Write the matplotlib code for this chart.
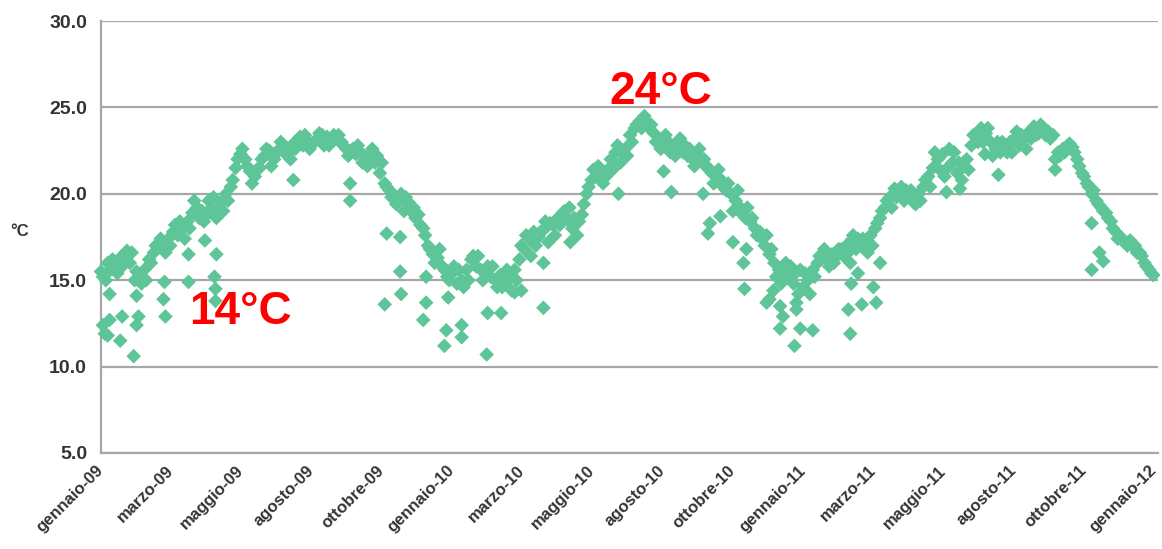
import matplotlib
matplotlib.use('Agg')
import matplotlib.pyplot as plt
import matplotlib.transforms as mtransforms
import numpy as np

plt.rcParams['font.family'] = ['Liberation Sans', 'DejaVu Sans']

# daily water temperature, values read every 5 days (day 0 = 1 Jan 2009)
t_2009 = [15.5, 15.0, 15.6, 16.0, 16.3, 16.4, 16.0, 15.0, 15.2, 15.6,
          16.2, 16.6, 17.0, 17.2, 17.4, 17.8, 17.6, 18.0, 18.4, 18.9,
          19.2, 19.0, 18.8, 19.2, 18.6, 19.5, 20.0, 20.4, 21.5, 22.3,
          22.0, 21.3, 21.0, 21.5, 22.2, 22.5, 22.0, 22.5, 22.8, 22.4,
          22.9, 23.0, 22.8, 23.1, 22.9, 23.2, 23.4, 23.3, 23.0, 23.2,
          23.0, 22.6, 22.4, 22.3, 22.4, 22.0, 22.3, 21.8, 21.2, 20.6,
          20.2, 19.9, 19.6, 19.0, 19.5, 19.2, 18.8, 18.0, 17.0, 16.5,
          16.3, 15.8, 15.2]
t_2010 = [15.4, 14.8, 15.0, 15.6, 16.2, 15.8, 15.6, 15.5, 15.2, 15.0,
          15.3, 14.8, 15.2, 15.6, 16.2, 16.8, 17.4, 17.8, 17.5, 17.9,
          17.2, 18.2, 18.6, 18.9, 18.5, 18.0, 17.6, 18.8, 20.0, 20.8,
          21.0, 21.2, 21.0, 22.0, 22.4, 21.8, 22.6, 23.4, 23.8, 24.2,
          24.5, 23.8, 23.5, 23.2, 22.8, 23.0, 22.6, 23.0, 22.4, 22.2,
          22.0, 22.3, 21.8, 21.6, 21.2, 21.0, 20.8, 20.2, 20.0, 19.6,
          19.2, 18.6, 18.4, 18.0, 17.8, 17.0, 16.5, 16.0, 15.6, 15.4,
          15.2, 14.8, 14.2]
t_2011 = [14.6, 15.0, 15.6, 16.0, 16.3, 16.2, 16.5, 16.4, 16.8, 17.0,
          17.3, 16.8, 17.0, 17.2, 17.6, 18.0, 18.6, 19.2, 19.8, 20.3,
          20.0, 19.6, 19.8, 19.5, 20.0, 20.4, 21.0, 21.5, 22.0, 22.3,
          21.5, 21.8, 21.2, 20.8, 22.0, 22.8, 23.4, 23.8, 23.5, 23.0,
          22.6, 22.4, 22.8, 23.0, 23.2, 22.8, 23.2, 23.6, 23.9, 23.5,
          23.8, 23.6, 23.4, 22.4, 22.6, 22.8, 22.7, 22.0, 21.2, 20.6,
          20.0, 19.6, 19.2, 18.9, 18.4, 17.8, 17.4, 17.2, 17.3, 17.0,
          16.6, 16.0, 15.6]

# in-between days (day 7, 17, 27, ...) that give the band its spread
e_2009 = [16.0, 15.4, 16.7, 15.5, 15.0, 17.0, 16.6, 18.2, 17.4, 19.6,
          18.4, 19.8, 19.0, 20.8, 22.6, 20.6, 22.0, 21.6, 23.0, 22.0,
          23.3, 22.6, 23.5, 22.8, 23.4, 22.2, 22.8, 21.6, 22.2, 20.4,
          19.4, 19.8, 18.6, 17.6, 16.0, 15.6]
e_2010 = [15.8, 14.6, 16.4, 15.0, 15.8, 14.6, 14.4, 17.0, 16.4, 17.8,
          18.3, 18.2, 19.2, 18.4, 20.4, 21.6, 21.4, 22.8, 22.2, 24.0,
          24.2, 23.0, 23.4, 22.2, 22.8, 21.6, 22.0, 20.6, 20.4, 19.0,
          18.8, 18.6, 17.4, 16.8, 14.8, 15.8, 15.6]
e_2011 = [14.2, 16.4, 15.8, 16.8, 16.6, 17.4, 16.6, 18.3, 19.6, 19.8,
          20.2, 19.4, 20.8, 22.4, 21.0, 22.4, 21.6, 23.4, 23.0, 22.2,
          23.0, 22.4, 23.4, 23.2, 24.0, 23.2, 22.2, 22.9, 21.6, 20.4,
          19.4, 18.6, 17.4, 17.0, 16.6, 15.8]

# more in-between days (day 2, 12, 22, ...)
f_2009 = [15.2, 16.2, 15.8, 16.6, 14.8, 16.0, 17.4, 17.0, 18.4, 18.0,
          18.6, 19.6, 19.0, 19.6, 22.0, 21.6, 21.4, 22.6, 22.4, 22.3,
          22.6, 23.4, 23.0, 22.8, 23.4, 22.8, 22.6, 21.8, 22.6, 21.8,
          19.8, 20.0, 19.0, 18.2, 16.8, 16.8, 15.0]
f_2010 = [15.6, 15.0, 16.4, 15.8, 14.6, 15.6, 15.0, 17.6, 17.0, 18.4,
          17.6, 19.0, 18.6, 19.4, 21.4, 20.6, 21.4, 22.4, 23.0, 23.8,
          24.0, 22.6, 22.4, 23.2, 22.6, 22.6, 21.4, 21.4, 20.6, 20.2,
          19.2, 17.6, 17.6, 15.2, 16.0, 15.4]
f_2011 = [15.4, 15.2, 16.8, 16.0, 16.4, 17.6, 17.4, 17.0, 19.0, 19.2,
          20.4, 20.2, 19.6, 20.4, 21.4, 22.6, 21.8, 21.4, 23.0, 23.8,
          23.0, 22.4, 23.6, 22.6, 23.4, 23.4, 22.0, 22.4, 22.4, 21.0,
          20.2, 19.0, 18.0, 17.4, 17.0, 16.4, 15.4]

# isolated cold days
out_days = [2, 4, 7, 9, 9, 20, 22, 34, 37, 37, 39, 65, 66, 67, 91, 91, 108,
            118, 119, 119, 120, 200, 259, 259, 295, 297, 311, 311, 312, 335,
            338, 338, 357, 359, 361, 375, 375, 401, 402, 416, 430, 437, 460,
            460, 488, 538, 585, 593, 626, 631, 633, 644, 657, 668, 669, 671,
            692, 695, 699, 706, 706, 709, 721, 723, 723, 727, 740, 777, 779,
            779, 780, 787, 791, 803, 806, 810, 879, 893, 919, 933, 992, 1030,
            1030, 1038, 1042, 1094]
out_vals = [12.4, 11.9, 11.8, 14.2, 12.7, 11.5, 12.9, 10.6, 14.1, 12.4, 12.9,
            13.9, 14.9, 12.9, 16.5, 14.9, 17.3, 15.2, 14.5, 13.8, 16.5, 20.8,
            20.6, 19.6, 13.6, 17.7, 17.5, 15.5, 14.2, 12.7, 15.2, 13.7, 11.2,
            12.1, 14.0, 12.4, 11.7, 10.7, 13.1, 13.1, 14.3, 14.4, 13.4, 16.0,
            17.2, 20.0, 21.3, 20.1, 20.0, 17.7, 18.3, 18.7, 17.2, 16.0, 14.5,
            16.8, 13.7, 13.9, 14.4, 12.2, 13.5, 12.9, 11.2, 13.7, 13.3, 12.2,
            12.1, 13.3, 16.0, 11.9, 14.8, 15.4, 13.6, 14.6, 13.7, 16.0, 20.1,
            20.3, 22.3, 21.1, 21.4, 18.3, 15.6, 16.6, 16.1, 15.3]

tick_labels = ['gennaio-09', 'marzo-09', 'maggio-09', 'agosto-09', 'ottobre-09',
               'gennaio-10', 'marzo-10', 'maggio-10', 'agosto-10', 'ottobre-10',
               'gennaio-11', 'marzo-11', 'maggio-11', 'agosto-11', 'ottobre-11',
               'gennaio-12']

main_vals = t_2009 + t_2010 + t_2011
main_days = np.arange(len(main_vals)) * 5
edge_vals = e_2009 + e_2010 + e_2011
edge_days = 7 + np.arange(len(edge_vals)) * 10
mid_vals = f_2009 + f_2010 + f_2011
mid_days = 2 + np.arange(len(mid_vals)) * 10

green = '#5dc598'

fig = plt.figure(figsize=(11.62, 5.49), dpi=100)
ax = fig.add_axes([0.0869, 0.1749, 0.9097, 0.7868])

for d, v in [(main_days, main_vals), (edge_days, edge_vals),
             (mid_days, mid_vals), (out_days, out_vals)]:
    ax.scatter(d, v, marker='D', s=56, color=green, edgecolors='none',
               zorder=3, clip_on=False)

ax.set_xlim(0, 1099)
ax.set_ylim(5, 30)
ax.set_yticks(np.arange(5, 31, 5))
ax.set_yticklabels([f'{v:.1f}' for v in np.arange(5, 31, 5)],
                   fontsize=14, fontweight='bold', color='#333333')
ax.set_xticks(np.arange(len(tick_labels)) * 73)
ax.set_xticklabels(tick_labels, rotation=45, ha='right', va='center',
                   rotation_mode='anchor', fontsize=12, fontweight='bold',
                   color='#333333')
shift = mtransforms.ScaledTranslation(-2 / 72, 0, fig.dpi_scale_trans)
for lab in ax.get_xticklabels():
    lab.set_transform(lab.get_transform() + shift)
ax.tick_params(axis='both', length=0)
ax.tick_params(axis='x', pad=11)
ax.tick_params(axis='y', pad=10)

ax.grid(axis='y', color='#a6a6a6', linewidth=1.6)
ax.set_axisbelow(True)
for side in ['top', 'right']:
    ax.spines[side].set_visible(False)
for side in ['left', 'bottom']:
    ax.spines[side].set_color('#a6a6a6')
    ax.spines[side].set_linewidth(1.6)

fig.text(20 / 1162, 1 - 232 / 549, '°C', fontsize=12, fontweight='bold',
         color='#333333', ha='center', va='center')

ax.text(91.5, 12.45, '14°C', color='#ff0000', fontsize=33, fontweight='bold',
        ha='left', va='baseline')
ax.text(529, 25.2, '24°C', color='#ff0000', fontsize=33, fontweight='bold',
        ha='left', va='baseline')

fig.savefig('out.png', dpi=100)
